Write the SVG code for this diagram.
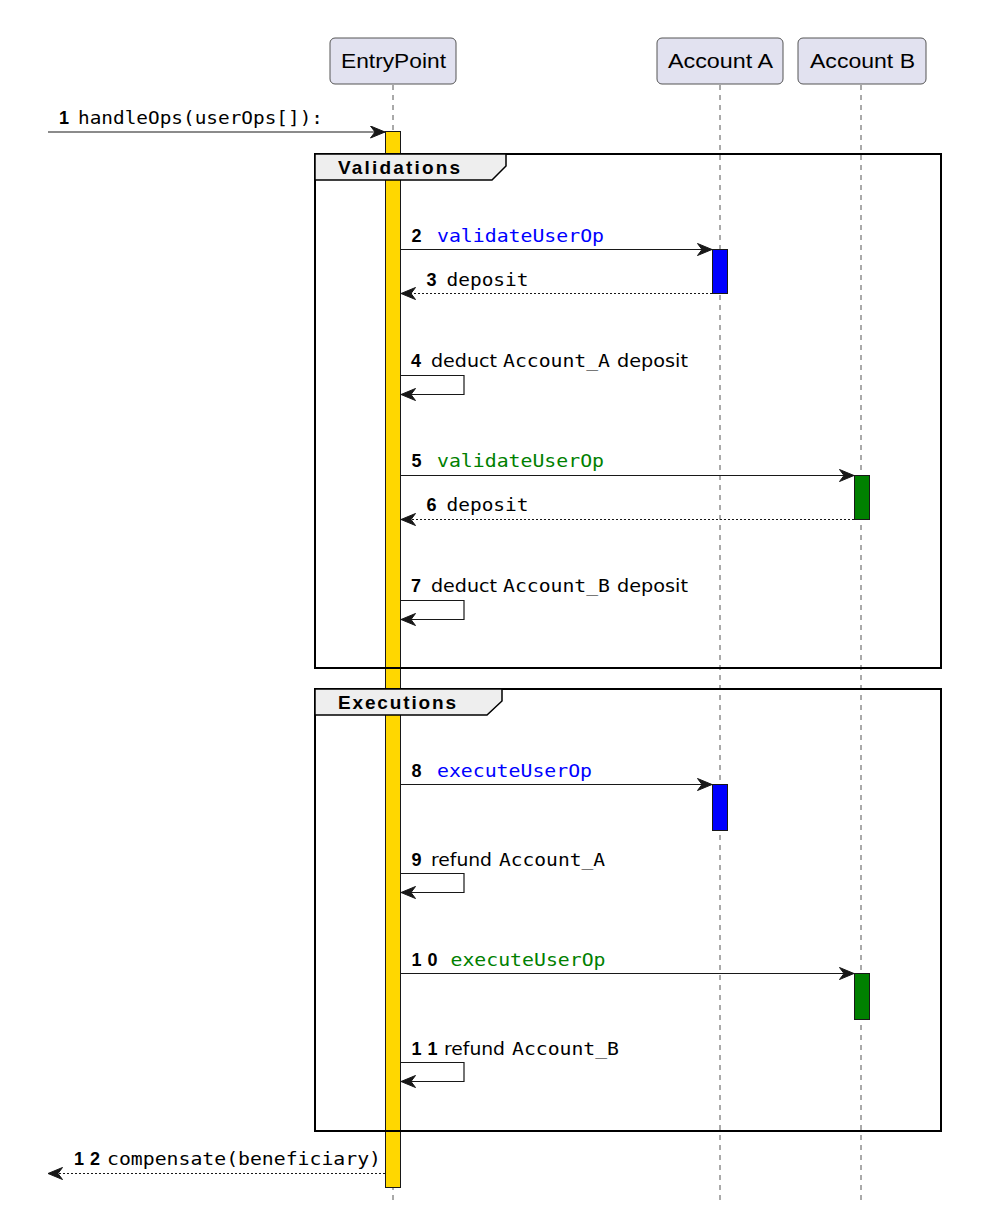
<svg xmlns="http://www.w3.org/2000/svg" width="984" height="1216" viewBox="0 0 984 1216">
<style>
.part{fill:#E2E2F0;stroke:#555;stroke-width:1}
.ptxt{font-family:"Liberation Sans",Arial,sans-serif;font-size:20px;fill:#000}
.life{stroke:#555;stroke-width:1;stroke-dasharray:5,5;fill:none}
.act{stroke:#181818;stroke-width:1}
.frame{fill:none;stroke:#000;stroke-width:2}
.tab{fill:#EEEEEE;stroke:#000;stroke-width:1.5}
.ftxt{font-family:"Liberation Sans",Arial,sans-serif;font-size:19px;font-weight:bold;fill:#000}
.msg{fill:none;stroke:#181818;stroke-width:1.2;marker-end:url(#ah)}
.ret{stroke-dasharray:2,2}
.num{font-family:"Liberation Sans",Arial,sans-serif;font-size:18px;font-weight:bold;fill:#000}
.mono{font-family:"DejaVu Sans Mono","Liberation Mono",monospace;font-size:18px;fill:#000}
.sans{font-family:"DejaVu Sans","Liberation Sans",sans-serif;font-size:18px;fill:#000}
.blue{fill:#0000FF}
.green{fill:#008000}
</style>
<defs>
<marker id="ah" markerUnits="userSpaceOnUse" viewBox="0 0 16 13" markerWidth="16" markerHeight="13" refX="15" refY="6.5" orient="auto">
<path d="M0.5,0.5 L15,6.5 L0.5,12.5 L5,6.5 Z" fill="#181818" stroke="#181818" stroke-width="1"/>
</marker>
</defs>

<g id="lifelines">
<line class="life" x1="393" y1="85" x2="393" y2="1200"/>
<line class="life" x1="720" y1="85" x2="720" y2="1200"/>
<line class="life" x1="861" y1="85" x2="861" y2="1200"/>
</g>

<g id="EntryPoint">
<rect class="part" x="330" y="38" width="126" height="46" rx="5"/>
<text class="ptxt" x="341" y="68" textLength="105" lengthAdjust="spacingAndGlyphs">EntryPoint</text>
</g>
<g id="AccountA">
<rect class="part" x="657" y="38" width="126" height="46" rx="5"/>
<text class="ptxt" x="668" y="68" textLength="105" lengthAdjust="spacingAndGlyphs">Account A</text>
</g>
<g id="AccountB">
<rect class="part" x="798" y="38" width="128" height="46" rx="5"/>
<text class="ptxt" x="810" y="68" textLength="105" lengthAdjust="spacingAndGlyphs">Account B</text>
</g>

<g id="activations">
<rect class="act" x="385.5" y="131.5" width="15" height="1056" fill="#FFD700"/>
<rect class="act" x="712.5" y="249.5" width="15" height="44" fill="#0000FF"/>
<rect class="act" x="854.5" y="475.5" width="15" height="44" fill="#008000"/>
<rect class="act" x="712.5" y="784.5" width="15" height="46" fill="#0000FF"/>
<rect class="act" x="854.5" y="973.5" width="15" height="46" fill="#008000"/>
</g>

<g id="Validations">
<rect class="frame" x="315" y="154" width="626" height="514"/>
<path class="tab" d="M315,154 L506,154 L506,166 L492,180 L315,180 Z"/>
<text class="ftxt" x="338" y="174" textLength="122" lengthAdjust="spacing">Validations</text>
</g>
<g id="Executions">
<rect class="frame" x="315" y="689" width="626" height="442"/>
<path class="tab" d="M315,689 L502,689 L502,701 L487,715 L315,715 Z"/>
<text class="ftxt" x="338" y="709" textLength="118" lengthAdjust="spacing">Executions</text>
</g>

<g id="connectors">
<line class="msg" x1="48" y1="132" x2="385" y2="132"/>
<line class="msg" x1="401" y1="249.5" x2="712" y2="249.5"/>
<line class="msg ret" x1="712" y1="293.5" x2="401" y2="293.5"/>
<polyline class="msg" points="401,375.5 464,375.5 464,394.5 401,394.5"/>
<line class="msg" x1="401" y1="475.5" x2="854" y2="475.5"/>
<line class="msg ret" x1="854" y1="519.5" x2="401" y2="519.5"/>
<polyline class="msg" points="401,600.5 464,600.5 464,619.5 401,619.5"/>
<line class="msg" x1="401" y1="784.5" x2="712" y2="784.5"/>
<polyline class="msg" points="401,873.5 464,873.5 464,892.5 401,892.5"/>
<line class="msg" x1="401" y1="973.5" x2="854" y2="973.5"/>
<polyline class="msg" points="401,1062.5 464,1062.5 464,1081.5 401,1081.5"/>
<line class="msg ret" x1="385" y1="1173.5" x2="48" y2="1173.5"/>
</g>

<g id="labels">
<text class="num" x="59" y="124">1</text>
<text class="mono" x="78" y="124" textLength="245" lengthAdjust="spacingAndGlyphs">handleOps(userOps[]):</text>

<text class="num" x="411.5" y="242">2</text>
<text class="mono blue" x="437" y="242" textLength="167" lengthAdjust="spacingAndGlyphs">validateUserOp</text>

<text class="num" x="426.5" y="286">3</text>
<text class="mono" x="446.5" y="286" textLength="82" lengthAdjust="spacingAndGlyphs">deposit</text>

<text class="num" x="411" y="367">4</text>
<text class="sans" x="431" y="367" textLength="66" lengthAdjust="spacingAndGlyphs">deduct</text>
<text class="mono" x="503" y="367" textLength="107" lengthAdjust="spacingAndGlyphs">Account_A</text>
<text class="sans" x="617" y="367" textLength="71" lengthAdjust="spacingAndGlyphs">deposit</text>

<text class="num" x="411.5" y="467">5</text>
<text class="mono green" x="437" y="467" textLength="167" lengthAdjust="spacingAndGlyphs">validateUserOp</text>

<text class="num" x="426.5" y="511">6</text>
<text class="mono" x="446.5" y="511" textLength="82" lengthAdjust="spacingAndGlyphs">deposit</text>

<text class="num" x="411" y="592">7</text>
<text class="sans" x="431" y="592" textLength="66" lengthAdjust="spacingAndGlyphs">deduct</text>
<text class="mono" x="503" y="592" textLength="107" lengthAdjust="spacingAndGlyphs">Account_B</text>
<text class="sans" x="617" y="592" textLength="71" lengthAdjust="spacingAndGlyphs">deposit</text>

<text class="num" x="411.5" y="777">8</text>
<text class="mono blue" x="437" y="777" textLength="155" lengthAdjust="spacingAndGlyphs">executeUserOp</text>

<text class="num" x="411.5" y="866">9</text>
<text class="sans" x="431" y="866" textLength="61" lengthAdjust="spacingAndGlyphs">refund</text>
<text class="mono" x="499" y="866" textLength="106" lengthAdjust="spacingAndGlyphs">Account_A</text>

<text class="num" x="411.5" y="966" textLength="26" lengthAdjust="spacing">10</text>
<text class="mono green" x="450.5" y="966" textLength="155" lengthAdjust="spacingAndGlyphs">executeUserOp</text>

<text class="num" x="411.5" y="1055" textLength="26" lengthAdjust="spacing">11</text>
<text class="sans" x="444" y="1055" textLength="61" lengthAdjust="spacingAndGlyphs">refund</text>
<text class="mono" x="512" y="1055" textLength="107" lengthAdjust="spacingAndGlyphs">Account_B</text>

<text class="num" x="74" y="1165" textLength="26" lengthAdjust="spacing">12</text>
<text class="mono" x="107" y="1165" textLength="274" lengthAdjust="spacingAndGlyphs">compensate(beneficiary)</text>
</g>
</svg>
